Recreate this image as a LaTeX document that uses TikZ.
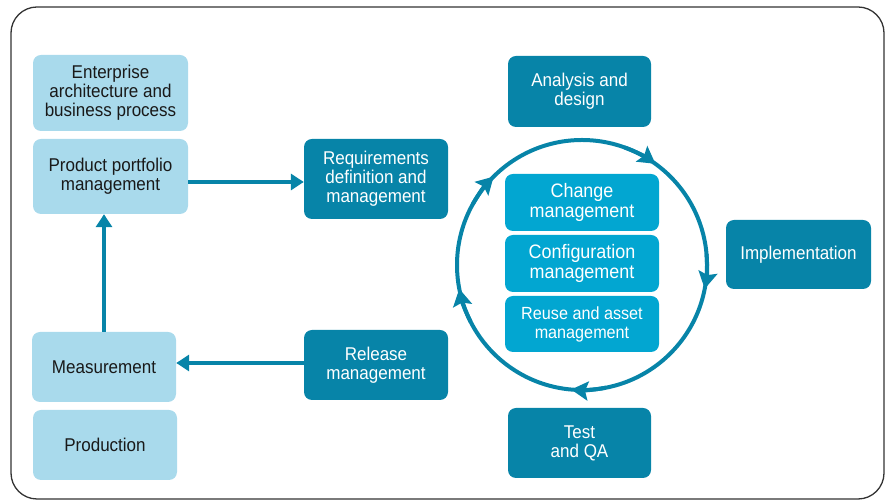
\documentclass[tikz,border=0pt]{standalone}
\usepackage{fontspec}
\setmainfont{Liberation Sans}[FakeStretch=0.92]
\usetikzlibrary{arrows.meta,calc}
\definecolor{darkteal}{HTML}{0784A8}
\definecolor{lightblue}{HTML}{A9DAEC}
\definecolor{midblue}{HTML}{02A6D1}
\definecolor{frameline}{HTML}{333333}
\begin{document}
\begin{tikzpicture}[x=1pt,y=1pt,
  box/.style={rounded corners=8pt, inner sep=0pt, align=center,
    font=\fontsize{18.5}{19}\selectfont},
  lightbox/.style={box, fill=lightblue, text=black!90},
  darkbox/.style={box, fill=darkteal, text=white},
  midbox/.style={box, fill=midblue, text=white, minimum width=154pt,
    font=\fontsize{19.5}{20}\selectfont},
  arr/.style={line width=4.5pt, draw=darkteal, -{Triangle[length=13pt,width=16pt]}},
  ring/.style={line width=4pt, draw=darkteal},
  ringarr/.style={line width=4pt, draw=darkteal, -{Triangle[length=17pt,width=19pt,inset=3pt]}}
]
\useasboundingbox (0,0) rectangle (889,500);
\draw[line width=1.3pt, draw=frameline, rounded corners=26pt] (11,1) rectangle (884,493);

% left column
\node[lightbox, minimum width=155pt, minimum height=76pt] (ent) at (110.5,407) {Enterprise\\architecture and\\business process};
\node[lightbox, minimum width=155pt, minimum height=75pt] (ppm) at (110.5,323.5) {Product portfolio\\management};
\node[lightbox, minimum width=144pt, minimum height=70pt] (meas) at (104,133) {Measurement};
\node[lightbox, minimum width=144pt, minimum height=70pt] (prod) at (105,55) {Production};

% middle column
\node[darkbox, minimum width=144pt, minimum height=80pt] (req) at (376,321) {Requirements\\definition and\\management};
\node[darkbox, minimum width=144pt, minimum height=70pt] (rel) at (376,135) {Release\\management};

% cycle
\node[darkbox, minimum width=143pt, minimum height=71pt] (ana) at (579.5,408.5) {Analysis and\\design};
\node[darkbox, minimum width=143pt, minimum height=70pt] (test) at (579.5,57) {Test\\and QA};
\node[darkbox, minimum width=145pt, minimum height=69pt] (impl) at (798.5,245.5) {Implementation};

\node[midbox, minimum height=57pt] (chg) at (582,297.5) {Change\\management};
\node[midbox, minimum height=57pt] (cfg) at (582,236.5) {Configuration\\management};
\node[midbox, minimum height=56pt, font=\fontsize{17.6}{19}\selectfont] (reu) at (582,176) {Reuse and asset\\management};

\coordinate (C) at (582,235);
\draw[ring] (C) circle[radius=125];
\foreach \a in {54,-11,-95,191,135}{
  \draw[ringarr] ($(C)+(\a+16:125)$) arc[start angle=\a+16, end angle=\a, radius=125];
}

% connectors
\draw[arr] ([yshift=-5.5pt]ppm.east) -- ([yshift=-5.5pt]ppm.east -| req.west);
\draw[arr] (meas.north) -- (meas.north |- ppm.south);
\draw[arr] ([yshift=2pt]rel.west) -- ([yshift=2pt]rel.west -| meas.east);
\end{tikzpicture}
\end{document}
